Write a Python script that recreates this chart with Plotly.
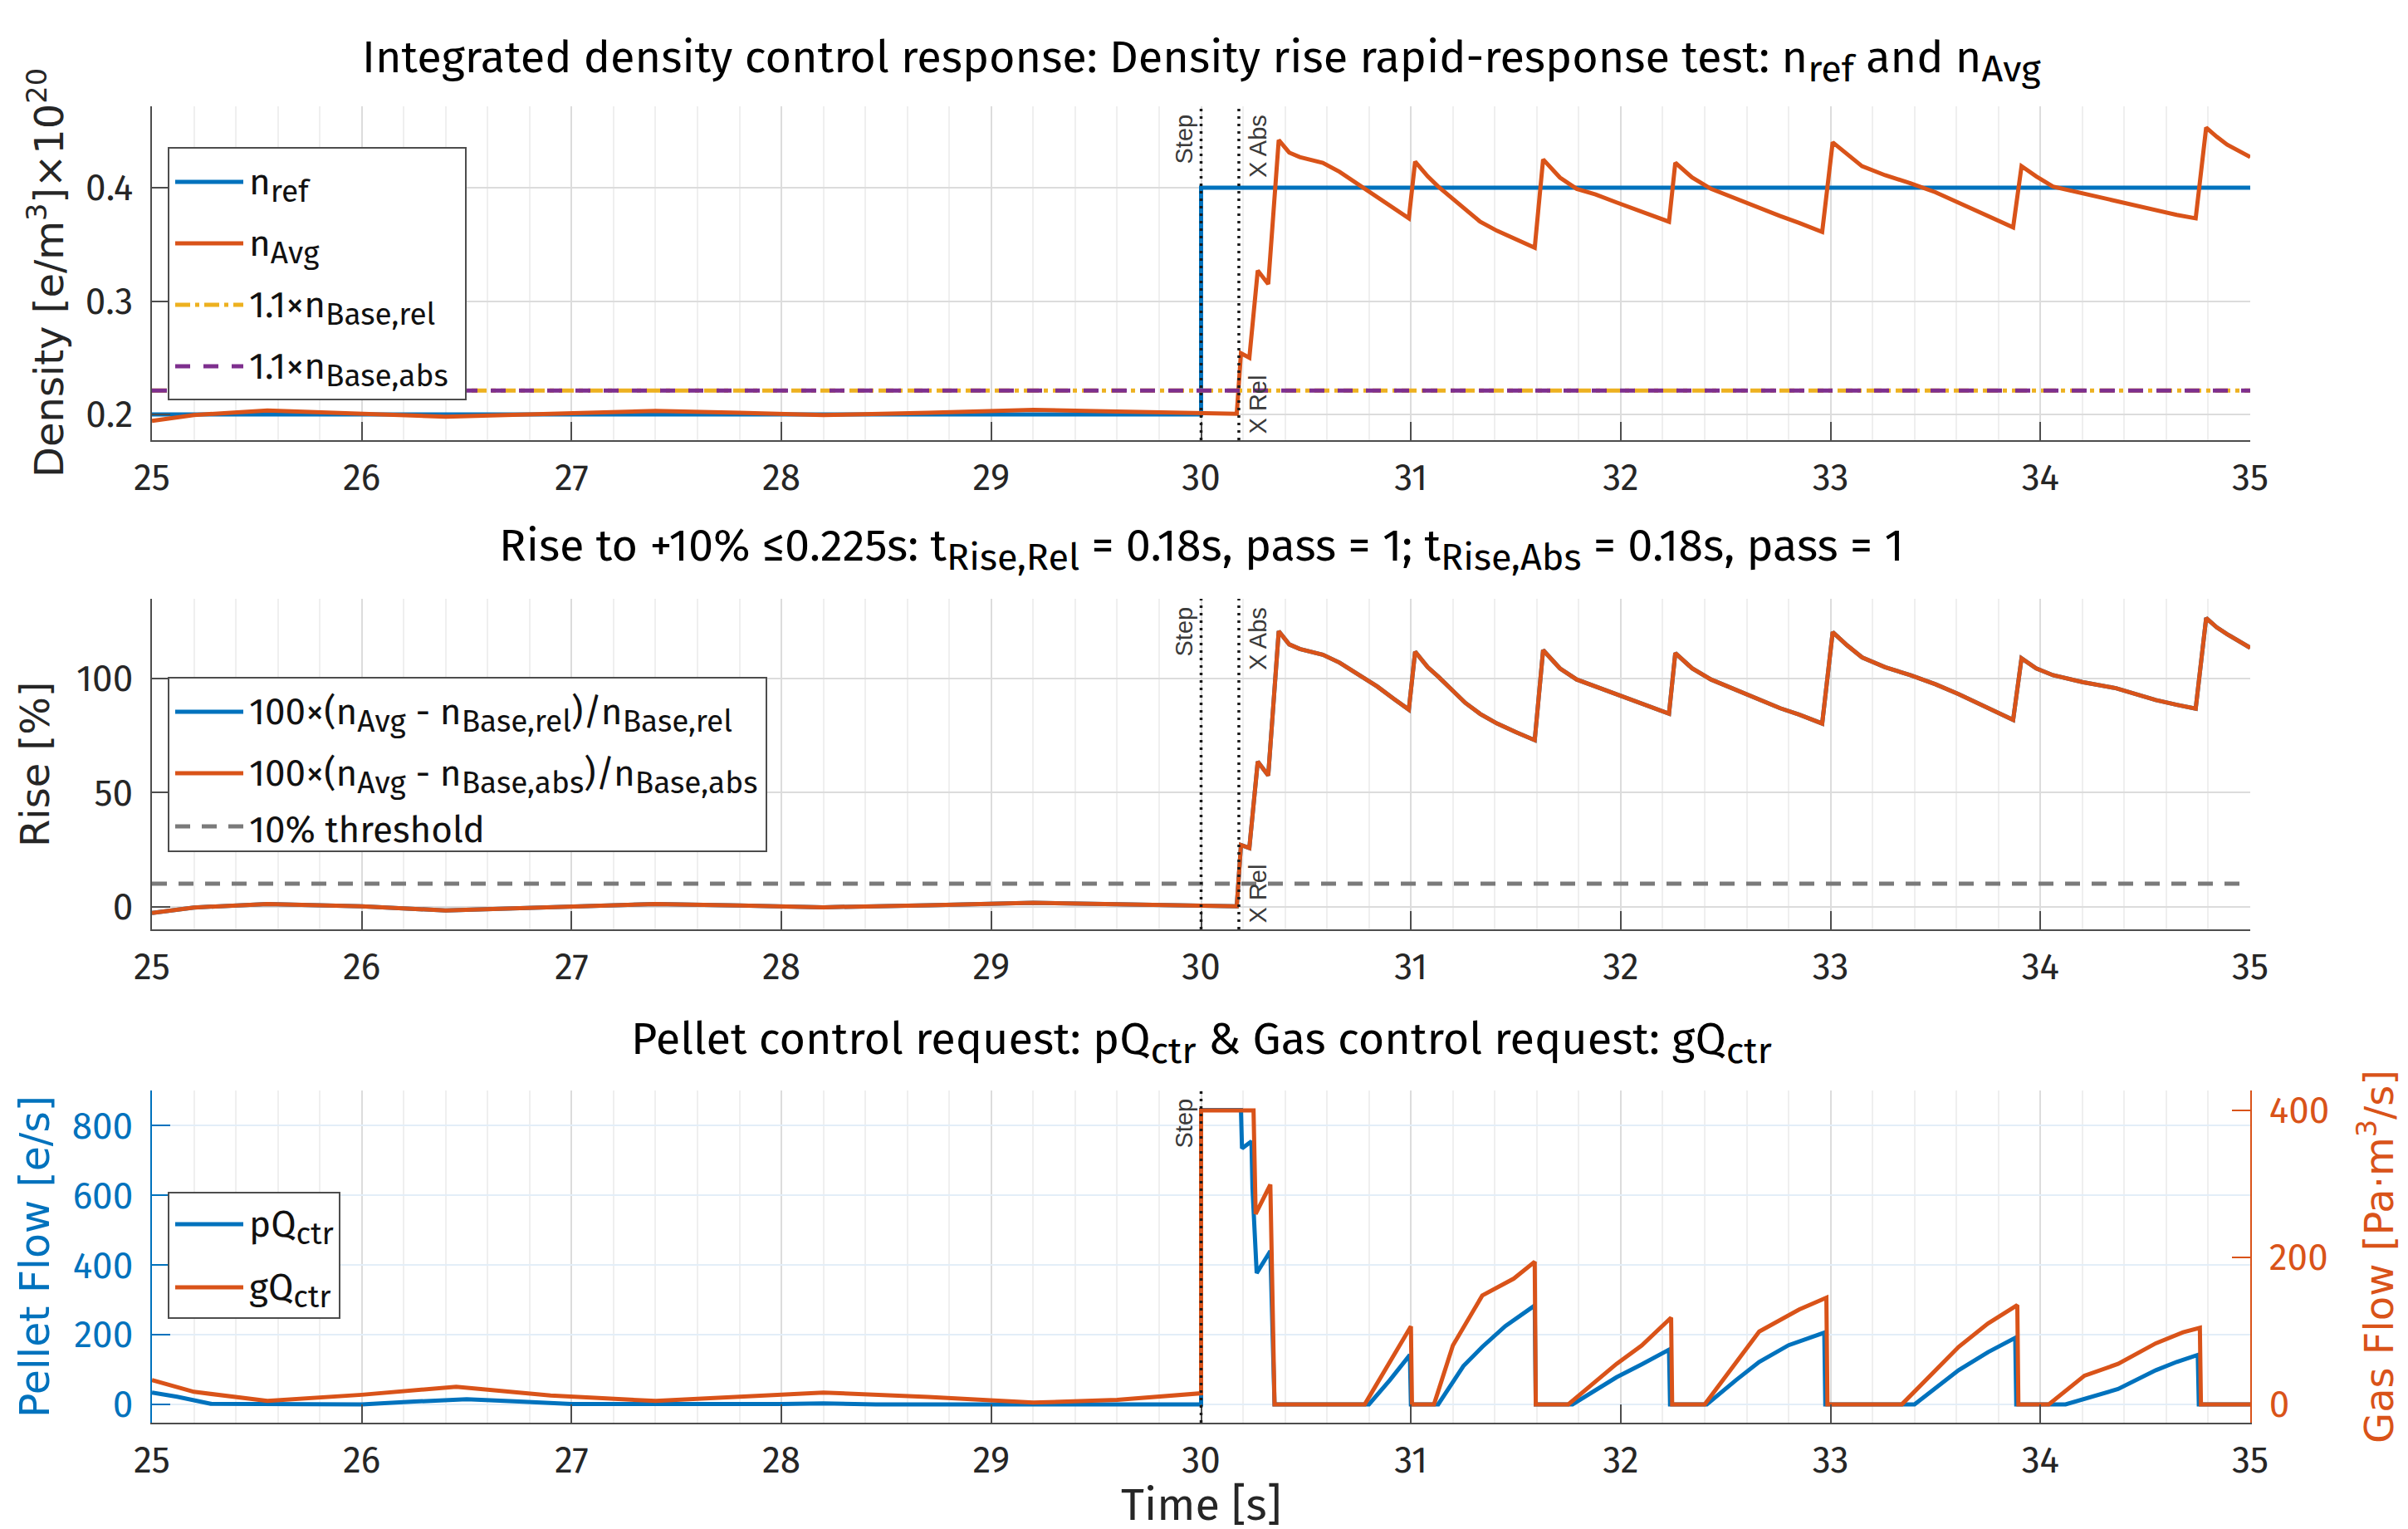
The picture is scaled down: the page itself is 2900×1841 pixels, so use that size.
import plotly.graph_objects as go

# ---------------- data ----------------
x_ticks = [25, 26, 27, 28, 29, 30, 31, 32, 33, 34, 35]
t_span = [25.0, 35.0]

t_ref = [25.0, 30.0, 30.0, 35.0]
n_ref = [0.2, 0.2, 0.4, 0.4]

t_avg = [25.00, 25.20, 25.55, 26.00, 26.40, 26.90, 27.40, 27.80, 28.20, 28.70, 29.20, 29.60,
         30.00, 30.17, 30.19, 30.23, 30.27, 30.32, 30.37, 30.42, 30.47, 30.58, 30.66, 30.75,
         30.84, 30.92, 30.99, 31.02, 31.08, 31.13, 31.20, 31.26, 31.33, 31.41, 31.50, 31.59,
         31.63, 31.71, 31.79, 31.88, 31.98, 32.10, 32.23, 32.26, 32.34, 32.43, 32.55, 32.66,
         32.76, 32.85, 32.96, 33.01, 33.08, 33.15, 33.26, 33.38, 33.50, 33.61, 33.74, 33.87,
         33.91, 33.98, 34.06, 34.20, 34.36, 34.55, 34.65, 34.74, 34.79, 34.84, 34.89, 35.00]
n_avg = [0.1944, 0.1995, 0.2034, 0.2005, 0.1980, 0.2005, 0.2032, 0.2015, 0.1995, 0.2015, 0.2040, 0.2025,
         0.2005, 0.2005, 0.2540, 0.2500, 0.3270, 0.3150, 0.4420, 0.4310, 0.4270, 0.4220, 0.4140, 0.4030,
         0.3920, 0.3820, 0.3730, 0.4230, 0.4100, 0.4010, 0.3900, 0.3800, 0.3700, 0.3620, 0.3540, 0.3470,
         0.4250, 0.4090, 0.3990, 0.3940, 0.3870, 0.3790, 0.3700, 0.4220, 0.4090, 0.3990, 0.3900, 0.3820,
         0.3750, 0.3690, 0.3610, 0.4400, 0.4290, 0.4190, 0.4110, 0.4040, 0.3960, 0.3870, 0.3760, 0.3650,
         0.4190, 0.4100, 0.4010, 0.3950, 0.3890, 0.3800, 0.3760, 0.3730, 0.4530, 0.4450, 0.4380, 0.4270]

n_base_rel_x11 = [0.2211, 0.2211]
n_base_abs_x11 = [0.2211, 0.2211]

t_rise = t_avg
rise_abs = [-2.8, -0.4, 1.1, 0.1, -1.7, -0.4, 1.1, 0.5, -0.3, 0.6, 1.7, 1.0,
            0.1, 0.1, 27.0, 25.7, 63.6, 57.5, 120.8, 115.0, 113.0, 110.5, 107.0, 101.5,
            96.5, 91.0, 86.4, 111.8, 105.0, 100.9, 94.5, 89.3, 84.5, 80.3, 76.5, 73.0,
            112.5, 104.5, 99.6, 96.5, 93.2, 89.0, 84.6, 111.2, 104.5, 99.6, 95.0, 90.6,
            87.0, 84.2, 80.3, 120.4, 114.5, 109.3, 105.0, 101.5, 97.5, 93.2, 87.5, 81.9,
            108.9, 104.5, 101.5, 98.5, 95.8, 90.6, 88.5, 86.8, 126.6, 122.5, 119.5, 113.5]
rise_rel = list(rise_abs)  # the two curves coincide in the reference
threshold_pct = [10.0, 10.0]

t_pq = [25.00, 25.12, 25.28, 26.00, 26.25, 26.50, 26.75, 27.00, 28.00, 28.20, 28.45, 30.00,
        30.00, 30.19, 30.195, 30.24, 30.245, 30.255, 30.265, 30.33, 30.335, 30.345, 30.35,
        30.80, 30.90, 30.995, 31.00, 31.13, 31.25, 31.34, 31.45, 31.59, 31.595, 31.77, 31.98,
        32.10, 32.23, 32.235, 32.41, 32.55, 32.66, 32.80, 32.97, 32.975, 33.40, 33.61, 33.75,
        33.88, 33.885, 34.12, 34.37, 34.55, 34.65, 34.75, 34.755, 35.00]
pq_ctr = [34, 22, 2, 0, 8, 15, 8, 1, 1, 3, 0, 0,
          845, 845, 735, 755, 620, 500, 377, 440, 320, 193, 0,
          0, 70, 142, 0, 0, 110, 165, 225, 284, 0, 0, 78,
          115, 157, 0, 0, 70, 122, 170, 206, 0, 0, 98, 150,
          191, 0, 0, 44, 98, 122, 142, 0, 0]

t_gq = [25.00, 25.20, 25.55, 26.00, 26.45, 26.90, 27.40, 27.80, 28.20, 28.70, 29.20, 29.60, 30.00,
        30.00, 30.25, 30.26, 30.33, 30.35, 30.78, 31.00, 31.005, 31.11, 31.20, 31.34, 31.49, 31.59,
        31.595, 31.75, 31.98, 32.10, 32.24, 32.245, 32.40, 32.66, 32.85, 32.98, 32.985, 33.34, 33.61,
        33.75, 33.89, 33.895, 34.04, 34.21, 34.37, 34.55, 34.68, 34.76, 34.765, 35.00]
gq_ctr = [33, 17, 4.6, 13, 24, 12, 4.6, 10, 16, 10, 2.3, 6, 15,
          400, 400, 259, 299, 0, 0, 106, 0, 0, 80, 148, 171, 194,
          0, 0, 55, 80, 118, 0, 0, 99, 129, 145, 0, 0, 78,
          110, 135, 0, 0, 39, 55, 83, 98, 104, 0, 0]

step_time = 30.0
cross_rel_time = 30.18
cross_abs_time = 30.18

y1_ticks = [0.2, 0.3, 0.4]
y2_ticks = [0, 50, 100]
y3_ticks = [0, 200, 400, 600, 800]
y4_ticks = [0, 200, 400]

# ---------------- style ----------------
OFF = 8                      # page body margin of the browser
W, H = 2900 - OFF, 1841 - OFF
BLUE, ORANGE, YELLOW, PURPLE, GRAY = "#0072BD", "#D95319", "#EDB120", "#7E2F8E", "#7A7A7A"
TFONT = "Fira Sans, Noto Sans, Open Sans, sans-serif"
LFONT = "DejaVu Sans, Noto Sans, sans-serif"
AFONT = "Liberation Sans, Arial, sans-serif"
AXC = "#4d4d4d"
TXT = "#262626"
DASH_Y = "18px,6px,5px,6px"
DASH_P = "18px,16px"
DASH_G = "18px,14px"


def px(pix):
    return (pix - OFF) / W


def py(pix):
    return 1 - (pix - OFF) / H


def sub(txt, size):
    return f'<sub><span style="font-size:{size}px">{txt}</span></sub>'


XDOM = [px(183), px(2710)]
P = {1: (128, 530), 2: (721, 1119), 3: (1313, 1713)}
dom = {k: [py(v[1]), py(v[0])] for k, v in P.items()}

fig = go.Figure()
LW = 5


def line(x, y, color, xa, ya, dash=None):
    return go.Scatter(x=x, y=y, mode="lines", line=dict(color=color, width=LW, dash=dash),
                      xaxis=xa, yaxis=ya, showlegend=False, hoverinfo="skip")


# panel 1
fig.add_trace(line(t_ref, n_ref, BLUE, "x", "y"))
fig.add_trace(line(t_avg, n_avg, ORANGE, "x", "y"))
fig.add_trace(line(t_span, n_base_rel_x11, YELLOW, "x", "y", DASH_Y))
fig.add_trace(line(t_span, n_base_abs_x11, PURPLE, "x", "y", DASH_P))
# panel 2
fig.add_trace(line(t_rise, rise_rel, BLUE, "x2", "y2"))
fig.add_trace(line(t_rise, rise_abs, ORANGE, "x2", "y2"))
fig.add_trace(line(t_span, threshold_pct, GRAY, "x2", "y2", DASH_G))
# panel 3
fig.add_trace(line(t_pq, pq_ctr, BLUE, "x3", "y3"))
fig.add_trace(line(t_gq, gq_ctr, ORANGE, "x3", "y4"))


def xax(anchor):
    return dict(domain=XDOM, anchor=anchor, range=t_span, tickmode="array", tickvals=x_ticks,
                ticks="inside", ticklen=22, tickwidth=2, tickcolor=AXC,
                showline=True, linecolor=AXC, linewidth=2, mirror=False,
                showgrid=True, gridcolor="#dcdcdc", gridwidth=2, zeroline=False,
                minor=dict(dtick=0.2, tick0=25, showgrid=True, gridcolor="#efefef", gridwidth=2, ticks=""),
                tickfont=dict(family=TFONT, size=44, color=TXT), ticklabelstandoff=5,
                automargin=False, fixedrange=True)


def yax(anchor, d, rng, tv, color=AXC, gridc="#dcdcdc", tcolor=TXT):
    return dict(domain=d, anchor=anchor, range=rng, tickmode="array", tickvals=tv,
                ticks="inside", ticklen=22, tickwidth=2, tickcolor=color,
                showline=True, linecolor=color, linewidth=2, mirror=False,
                showgrid=True, gridcolor=gridc, gridwidth=2, zeroline=False,
                tickfont=dict(family=TFONT, size=44, color=tcolor), ticklabelstandoff=12,
                automargin=False, fixedrange=True)


fig.update_layout(
    width=W, height=H, margin=dict(l=0, r=0, t=0, b=0),
    paper_bgcolor="white", plot_bgcolor="white", showlegend=False,
    xaxis=xax("y"), xaxis2=xax("y2"), xaxis3=xax("y3"),
    yaxis=yax("x", dom[1], [0.1773, 0.4718], y1_ticks),
    yaxis2=yax("x2", dom[2], [-10, 135], y2_ticks),
    yaxis3=yax("x3", dom[3], [-52.5, 901], y3_ticks, color=BLUE, gridc="#e3eef8", tcolor=BLUE),
    yaxis4=dict(overlaying="y3", anchor="x3", side="right", range=[-25, 427], tickmode="array",
                tickvals=y4_ticks, ticks="inside", ticklen=22, tickwidth=2, tickcolor=ORANGE,
                showline=True, linecolor=ORANGE, linewidth=2, showgrid=False, zeroline=False,
                tickfont=dict(family=TFONT, size=44, color=ORANGE), ticklabelstandoff=12,
                automargin=False, fixedrange=True),
)

shapes = []
ann = []

# vertical marker lines (step and crossing times)
for ax_i, times in ((1, [step_time, cross_rel_time]), (2, [step_time, cross_rel_time]), (3, [step_time])):
    xr = "x" if ax_i == 1 else f"x{ax_i}"
    yr = "y domain" if ax_i == 1 else f"y{ax_i} domain"
    for tt in times:
        shapes.append(dict(type="line", xref=xr, yref=yr, x0=tt, x1=tt, y0=0, y1=1,
                           line=dict(color="#1a1a1a", width=3.5, dash="3px,6px"), layer="above"))

# legends (boxes with line samples and labels)
LS = 37  # legend subscript size
LEGENDS = [
    ((203, 178, 561, 481), [
        (219, BLUE, None, "n" + sub("ref", LS)),
        (293, ORANGE, None, "n" + sub("Avg", LS)),
        (367, YELLOW, DASH_Y, "1.1×n" + sub("Base,rel", LS)),
        (441, PURPLE, DASH_P, "1.1×n" + sub("Base,abs", LS)),
    ]),
    ((203, 816, 923, 1025), [
        (857, BLUE, None, "100×(n" + sub("Avg", LS) + " - n" + sub("Base,rel", LS) + ")/n" + sub("Base,rel", LS)),
        (931, ORANGE, None, "100×(n" + sub("Avg", LS) + " - n" + sub("Base,abs", LS) + ")/n" + sub("Base,abs", LS)),
        (995, GRAY, DASH_G, "10% threshold"),
    ]),
    ((203, 1436, 409, 1587), [
        (1474, BLUE, None, "pQ" + sub("ctr", LS)),
        (1550, ORANGE, None, "gQ" + sub("ctr", LS)),
    ]),
]
for (x0, y0, x1, y1), rows in LEGENDS:
    shapes.append(dict(type="rect", xref="paper", yref="paper", x0=px(x0), x1=px(x1), y0=py(y1), y1=py(y0),
                       line=dict(color=AXC, width=2), fillcolor="white", layer="above"))
    for ry, col, dsh, label in rows:
        shapes.append(dict(type="line", xref="paper", yref="paper", x0=px(211), x1=px(293),
                           y0=py(ry), y1=py(ry), line=dict(color=col, width=LW, dash=dsh), layer="above"))
        ann.append(dict(text=label, xref="paper", yref="paper", x=px(298), y=py(ry + 4),
                        xanchor="left", yanchor="middle", showarrow=False,
                        font=dict(family=TFONT, size=44, color="#111111")))

# titles
TS = 45  # title subscript size
TITLES = [
    ("Integrated density control response: Density rise rapid-response test: n" + sub("ref", TS)
     + " and n" + sub("Avg", TS), 73),
    ("Rise to +10% ≤0.225s: t" + sub("Rise,Rel", TS) + " = 0.18s, pass = 1; t" + sub("Rise,Abs", TS)
     + " = 0.18s, pass = 1", 662),
    ("Pellet control request: pQ" + sub("ctr", TS) + " &amp; Gas control request: gQ" + sub("ctr", TS), 1255),
]
for txt, ypix in TITLES:
    ann.append(dict(text=txt, xref="paper", yref="paper", x=sum(XDOM) / 2, y=py(ypix),
                    xanchor="center", yanchor="middle", showarrow=False,
                    font=dict(family=TFONT, size=54, color="#000000")))

# axis titles
ann.append(dict(text="Density [e/m<sup>3</sup>]×10<sup>20</sup>", xref="paper", yref="paper",
                x=px(56), y=py(329), textangle=-90, xanchor="center", yanchor="middle", showarrow=False,
                font=dict(family=LFONT, size=48, color=TXT)))
ann.append(dict(text="Rise [%]", xref="paper", yref="paper",
                x=px(42), y=py(920), textangle=-90, xanchor="center", yanchor="middle", showarrow=False,
                font=dict(family=LFONT, size=48, color=TXT)))
ann.append(dict(text="Pellet Flow [e/s]", xref="paper", yref="paper",
                x=px(42), y=py(1513), textangle=-90, xanchor="center", yanchor="middle", showarrow=False,
                font=dict(family=LFONT, size=49, color=BLUE)))
ann.append(dict(text="Gas Flow [Pa·m<sup>3</sup>/s]", xref="paper", yref="paper",
                x=px(2862), y=py(1513), textangle=-90, xanchor="center", yanchor="middle", showarrow=False,
                font=dict(family=LFONT, size=48, color=ORANGE)))
ann.append(dict(text="Time [s]", xref="paper", yref="paper", x=sum(XDOM) / 2, y=py(1778),
                xanchor="center", yanchor="top", showarrow=False,
                font=dict(family=TFONT, size=54, color=TXT)))


# marker labels
def marker_labels(ax_i, with_cross):
    xr = "x" if ax_i == 1 else f"x{ax_i}"
    yr = "y domain" if ax_i == 1 else f"y{ax_i} domain"
    f = dict(family=AFONT, size=29, color="#3a3a3a")
    out = [dict(text="Step", xref=xr, yref=yr, x=step_time, y=1, xanchor="right", yanchor="top",
                xshift=-3, yshift=-8, textangle=-90, showarrow=False, font=f)]
    if with_cross:
        out.append(dict(text="X Abs", xref=xr, yref=yr, x=cross_abs_time, y=1, xanchor="left",
                        yanchor="top", xshift=5, yshift=-8, textangle=-90, showarrow=False, font=f))
        out.append(dict(text="X Rel", xref=xr, yref=yr, x=cross_rel_time, y=0, xanchor="left",
                        yanchor="bottom", xshift=5, yshift=6, textangle=-90, showarrow=False, font=f))
    return out


ann += marker_labels(1, True) + marker_labels(2, True) + marker_labels(3, False)
fig.update_layout(shapes=shapes, annotations=ann)

fig.write_html("out.html")
